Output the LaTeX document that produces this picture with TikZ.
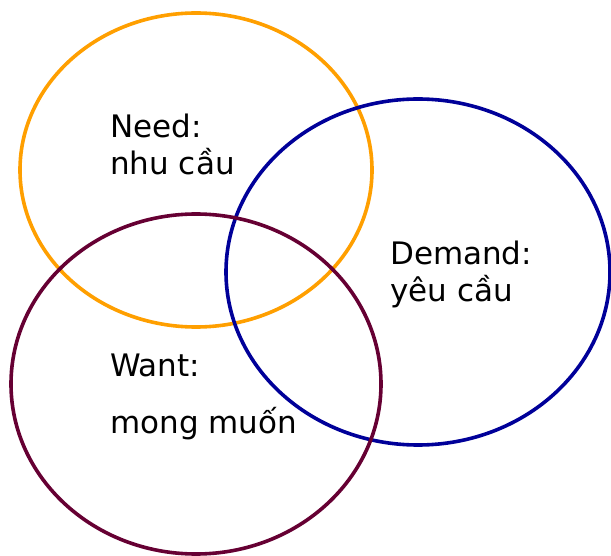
\documentclass[tikz,border=0pt]{standalone}
\usepackage{fontspec}
\setmainfont{DejaVu Sans}
\begin{document}
\begin{tikzpicture}[x=1pt,y=-1pt,
  ring/.style={line width=3.6pt},
  lbl/.style={anchor=base west,inner sep=0pt,font=\fontsize{31}{37}\selectfont}]
\useasboundingbox (0,0) rectangle (611,556);
\definecolor{cneed}{HTML}{FF9F00}
\definecolor{cdem}{HTML}{000099}
\definecolor{cwant}{HTML}{660033}
\draw[ring,cneed] (196,170) ellipse [x radius=176, y radius=157];
\draw[ring,cdem] (418,272) ellipse [x radius=192, y radius=173];
\draw[ring,cwant] (196,384) ellipse [x radius=185, y radius=170];
\node[lbl] (n1) at (110,138) {Need:};
\node[lbl] (n2) at (110,175) {nhu cầu};
\node[lbl] (d1) at (390,265) {Demand:};
\node[lbl] (d2) at (390,302) {yêu cầu};
\node[lbl] (w1) at (110,377) {Want:};
\node[lbl] (w2) at (110,433) {mong muốn};
\end{tikzpicture}
\end{document}
